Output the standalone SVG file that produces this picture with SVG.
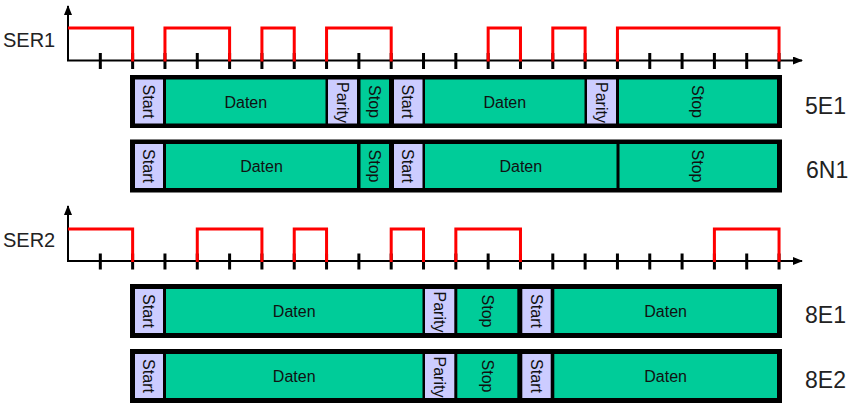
<svg xmlns="http://www.w3.org/2000/svg" width="855" height="407" viewBox="0 0 855 407">
<defs>
<style>
.ax{stroke:#000;stroke-width:2;fill:none}
.tk{stroke:#000;stroke-width:3;fill:none}
.sig{stroke:#ff0000;stroke-width:3;fill:none;stroke-linejoin:miter;stroke-linecap:butt}
.frame{fill:#000}
.lav{fill:#ccccff}
.grn{fill:#00cc99}
.ct{font-family:"Liberation Sans",Arial,sans-serif;font-size:16px;fill:#111;text-anchor:middle}
.lbl{font-family:"Liberation Sans",Arial,sans-serif;font-size:20px;fill:#222}
.rl{font-family:"Liberation Sans",Arial,sans-serif;font-size:23px;fill:#222}
</style>
<marker id="ah" viewBox="0 0 10 8" refX="9" refY="4" markerWidth="10" markerHeight="8" markerUnits="userSpaceOnUse" orient="auto">
<path d="M0,0 L10,4 L0,8 Z" fill="#000"/>
</marker>
</defs>

<g id="ser1">
<text class="lbl" x="3" y="46.5">SER1</text>
<line class="ax" x1="68" y1="61" x2="68" y2="6" marker-end="url(#ah)"/>
<line class="ax" x1="67" y1="60.5" x2="802" y2="60.5" marker-end="url(#ah)"/>
<path class="tk" d="M100.32,53V69M132.64,53V69M164.96,53V69M197.28,53V69M229.6,53V69M261.92,53V69M294.24,53V69M326.56,53V69M358.88,53V69M391.2,53V69M423.52,53V69M455.84,53V69M488.16,53V69M520.48,53V69M552.8,53V69M585.12,53V69M617.44,53V69M649.76,53V69M682.08,53V69M714.4,53V69M746.72,53V69M779.04,53V69"/>
<path class="sig" d="M68,28H132.64V61.5M164.96,61.5V28H229.6V61.5M261.92,61.5V28H294.24V61.5M326.56,61.5V28H391.2V61.5M488.16,61.5V28H520.48V61.5M552.8,61.5V28H585.12V61.5M617.44,61.5V28H779.04V61.5"/>
</g>

<g id="row-5E1">
<rect class="frame" x="130" y="75" width="652" height="53"/>
<rect class="lav" x="135" y="79.5" width="28" height="44"/>
<rect class="grn" x="166" y="79.5" width="159.5" height="44"/>
<rect class="lav" x="328" y="79.5" width="29" height="44"/>
<rect class="grn" x="360.5" y="79.5" width="28.5" height="44"/>
<rect class="lav" x="394" y="79.5" width="28.5" height="44"/>
<rect class="grn" x="425" y="79.5" width="159.5" height="44"/>
<rect class="lav" x="587" y="79.5" width="29" height="44"/>
<rect class="grn" x="619" y="79.5" width="158" height="44"/>
<text class="ct" transform="translate(149,101.5) rotate(90)" y="5.7">Start</text>
<text class="ct" x="245.8" y="107.5">Daten</text>
<text class="ct" transform="translate(342.5,102.5) rotate(90)" y="5.7">Parity</text>
<text class="ct" transform="translate(374.8,101.5) rotate(90)" y="5.7">Stop</text>
<text class="ct" transform="translate(408.2,101.5) rotate(90)" y="5.7">Start</text>
<text class="ct" x="504.8" y="107.5">Daten</text>
<text class="ct" transform="translate(601.5,102.5) rotate(90)" y="5.7">Parity</text>
<text class="ct" transform="translate(698,101.5) rotate(90)" y="5.7">Stop</text>
<text class="rl" x="805" y="113.5">5E1</text>
</g>

<g id="row-6N1">
<rect class="frame" x="130" y="139.5" width="652" height="53"/>
<rect class="lav" x="135" y="144" width="28" height="44"/>
<rect class="grn" x="166" y="144" width="191" height="44"/>
<rect class="grn" x="360.5" y="144" width="28.5" height="44"/>
<rect class="lav" x="394" y="144" width="28.5" height="44"/>
<rect class="grn" x="425" y="144" width="191.5" height="44"/>
<rect class="grn" x="619.5" y="144" width="157.5" height="44"/>
<text class="ct" transform="translate(149,166) rotate(90)" y="5.7">Start</text>
<text class="ct" x="261.5" y="172">Daten</text>
<text class="ct" transform="translate(374.8,166) rotate(90)" y="5.7">Stop</text>
<text class="ct" transform="translate(408.2,166) rotate(90)" y="5.7">Start</text>
<text class="ct" x="520.8" y="172">Daten</text>
<text class="ct" transform="translate(698,166) rotate(90)" y="5.7">Stop</text>
<text class="rl" x="806" y="177.5">6N1</text>
</g>

<g id="ser2">
<text class="lbl" x="3" y="247">SER2</text>
<line class="ax" x1="68" y1="261.5" x2="68" y2="206" marker-end="url(#ah)"/>
<line class="ax" x1="67" y1="261" x2="802" y2="261" marker-end="url(#ah)"/>
<path class="tk" d="M100.32,253.5V269.5M132.64,253.5V269.5M164.96,253.5V269.5M197.28,253.5V269.5M229.6,253.5V269.5M261.92,253.5V269.5M294.24,253.5V269.5M326.56,253.5V269.5M358.88,253.5V269.5M391.2,253.5V269.5M423.52,253.5V269.5M455.84,253.5V269.5M488.16,253.5V269.5M520.48,253.5V269.5M552.8,253.5V269.5M585.12,253.5V269.5M617.44,253.5V269.5M649.76,253.5V269.5M682.08,253.5V269.5M714.4,253.5V269.5M746.72,253.5V269.5M779.04,253.5V269.5"/>
<path class="sig" d="M68,229H132.64V262M197.28,262V229H261.92V262M294.24,262V229H326.56V262M391.2,262V229H423.52V262M455.84,262V229H520.48V262M714.4,262V229H779.04V262"/>
</g>

<g id="row-8E1">
<rect class="frame" x="130" y="284" width="652" height="54"/>
<rect class="lav" x="135" y="289" width="28" height="44"/>
<rect class="grn" x="166" y="289" width="256.5" height="44"/>
<rect class="lav" x="425" y="289" width="29.3" height="44"/>
<rect class="grn" x="457.3" y="289" width="60" height="44"/>
<rect class="lav" x="522.3" y="289" width="28.4" height="44"/>
<rect class="grn" x="554.3" y="289" width="222.7" height="44"/>
<text class="ct" transform="translate(149,311) rotate(90)" y="5.7">Start</text>
<text class="ct" x="294.2" y="317">Daten</text>
<text class="ct" transform="translate(439.6,312) rotate(90)" y="5.7">Parity</text>
<text class="ct" transform="translate(487.3,311) rotate(90)" y="5.7">Stop</text>
<text class="ct" transform="translate(536.5,311) rotate(90)" y="5.7">Start</text>
<text class="ct" x="665.6" y="317">Daten</text>
<text class="rl" x="805" y="323">8E1</text>
</g>

<g id="row-8E2">
<rect class="frame" x="130" y="349" width="652" height="54"/>
<rect class="lav" x="135" y="354" width="28" height="44"/>
<rect class="grn" x="166" y="354" width="256.5" height="44"/>
<rect class="lav" x="425" y="354" width="29.3" height="44"/>
<rect class="grn" x="457.3" y="354" width="60" height="44"/>
<rect class="lav" x="522.3" y="354" width="28.4" height="44"/>
<rect class="grn" x="554.3" y="354" width="222.7" height="44"/>
<text class="ct" transform="translate(149,376) rotate(90)" y="5.7">Start</text>
<text class="ct" x="294.2" y="382">Daten</text>
<text class="ct" transform="translate(439.6,377) rotate(90)" y="5.7">Parity</text>
<text class="ct" transform="translate(487.3,376) rotate(90)" y="5.7">Stop</text>
<text class="ct" transform="translate(536.5,376) rotate(90)" y="5.7">Start</text>
<text class="ct" x="665.6" y="382">Daten</text>
<text class="rl" x="805" y="388">8E2</text>
</g>
</svg>
